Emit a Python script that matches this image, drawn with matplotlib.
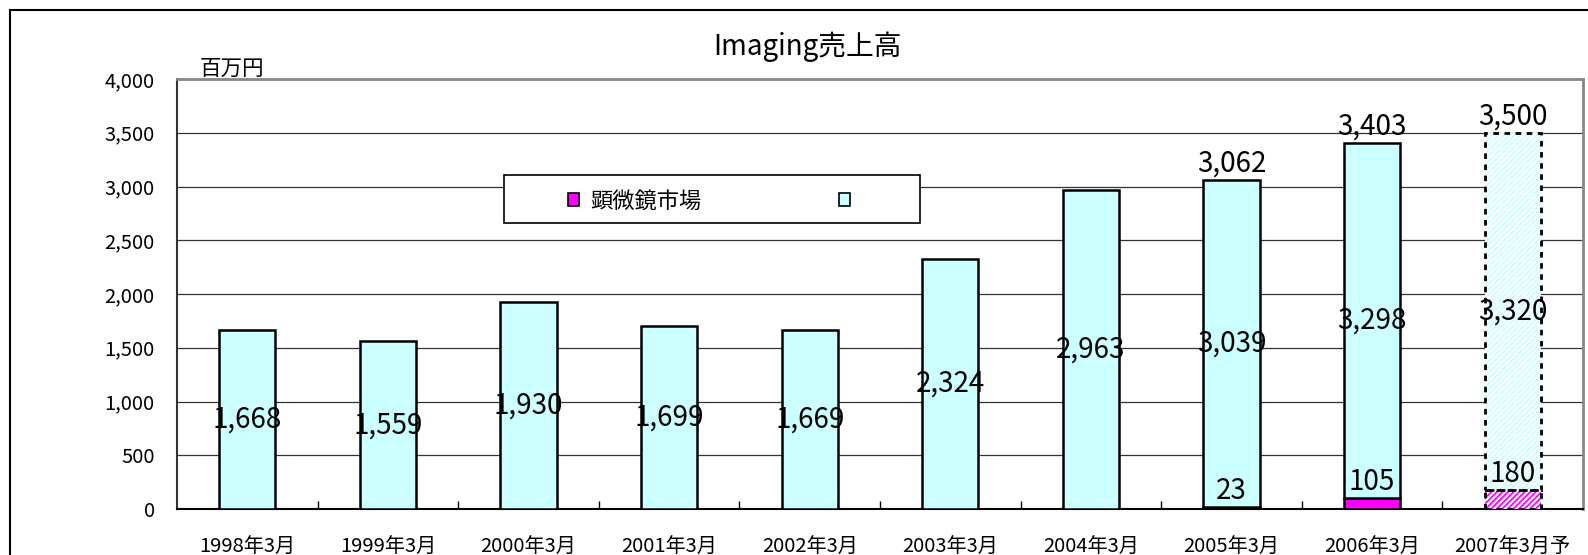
import numpy as np
import matplotlib
matplotlib.use('Agg')
import matplotlib.pyplot as plt
from matplotlib.patches import Rectangle

plt.rcParams['font.family'] = ['Noto Sans CJK JP', 'DejaVu Sans']
plt.rcParams['hatch.linewidth'] = 1.3

categories = ['1998年3月', '1999年3月', '2000年3月', '2001年3月', '2002年3月',
              '2003年3月', '2004年3月', '2005年3月', '2006年3月', '2007年3月予']
microscope = [0, 0, 0, 0, 0, 0, 0, 23, 105, 180]
other = [1668, 1559, 1930, 1699, 1669, 2324, 2963, 3039, 3298, 3320]
forecast = [False] * 9 + [True]

CYAN = '#CCFFFF'
MAGENTA = '#FF00FF'

fig = plt.figure(figsize=(15.88, 5.55), dpi=100)
ax = fig.add_axes([177 / 1588, 1 - 509 / 555, 1406 / 1588, 430 / 555])

x = np.arange(len(categories))
w = 0.4
for i in range(len(categories)):
    if forecast[i]:
        ax.bar(x[i], microscope[i], w, color='white', hatch='//////',
               edgecolor=MAGENTA, linewidth=0, zorder=3)
        ax.bar(x[i], other[i], w, bottom=microscope[i], color='white',
               hatch='//////', edgecolor=CYAN, linewidth=0, zorder=3)
        ax.bar(x[i], microscope[i], w, fill=False, edgecolor='black',
               linestyle=(0, (2, 2)), linewidth=2, zorder=4)
        ax.bar(x[i], other[i], w, bottom=microscope[i], fill=False,
               edgecolor='black', linestyle=(0, (2, 2)), linewidth=2, zorder=4)
    else:
        ax.bar(x[i], microscope[i], w, color=MAGENTA, edgecolor='black',
               linewidth=1.8, zorder=3)
        ax.bar(x[i], other[i], w, bottom=microscope[i], color=CYAN,
               edgecolor='black', linewidth=1.8, zorder=3)

totals = [m + o for m, o in zip(microscope, other)]
for i in range(len(categories)):
    ax.text(x[i], microscope[i] + other[i] / 2, f'{other[i]:,}', ha='center',
            va='center', fontsize=20, zorder=5)
    if microscope[i]:
        ax.annotate(f'{microscope[i]:,}', (x[i], microscope[i]),
                    xytext=(0, 0.5), textcoords='offset points', ha='center',
                    va='bottom', fontsize=20, zorder=5)
        ax.annotate(f'{totals[i]:,}', (x[i], totals[i]),
                    xytext=(0, 1), textcoords='offset points', ha='center',
                    va='bottom', fontsize=20, zorder=5)

ax.set_xlim(-0.5, len(categories) - 0.5)
ax.set_ylim(0, 4000)
ax.set_yticks(np.arange(0, 4001, 500))
ax.set_yticklabels([f'{v:,}' for v in range(0, 4001, 500)], fontsize=14.5)
ax.set_xticks(x)
ax.set_xticklabels(categories, fontsize=14.5)
ax.set_xticks(np.arange(0.5, len(categories) - 0.5), minor=True)
ax.tick_params(axis='x', which='major', length=0, pad=20)
ax.tick_params(axis='x', which='minor', direction='in', length=6, width=1)
ax.tick_params(axis='y', length=0, pad=16)
ax.grid(axis='y', color='#333333', linewidth=0.9, zorder=0)
ax.set_axisbelow(True)
for side in ['left', 'top', 'right']:
    ax.spines[side].set_color('#888888')
    ax.spines[side].set_linewidth(2)
ax.spines['left'].set_color('#333333')
ax.spines['left'].set_linewidth(1.5)
ax.spines['bottom'].set_color('black')
ax.spines['bottom'].set_linewidth(1.5)

fig.text(200 / 1588, 1 - 69 / 555, '百万円', fontsize=15.5, va='center')
fig.text(807 / 1588, 1 - 47 / 555, 'Imaging売上高', fontsize=20, ha='center',
         va='center')

# legend box
fig.patches.append(Rectangle((504 / 1588, 1 - 223 / 555), 416 / 1588,
                             48 / 555, transform=fig.transFigure,
                             facecolor='white', edgecolor='black',
                             linewidth=1.2, zorder=10))
handles = [Rectangle((0, 0), 1, 1, facecolor=MAGENTA, edgecolor='black', linewidth=1.2),
           Rectangle((0, 0), 1, 1, facecolor=CYAN, edgecolor='black', linewidth=1.2)]
leg = fig.legend(handles, ['顕微鏡市場', ''], ncol=2, frameon=False,
                 loc='center left', bbox_to_anchor=(568 / 1588, 1 - 201 / 555),
                 fontsize=16, handlelength=0.5, handleheight=0.5,
                 handletextpad=0.5, columnspacing=6.2, borderpad=0,
                 borderaxespad=0)
leg.set_zorder(11)

# outer frame
fig.patches.append(Rectangle((10 / 1588, -0.1), 1.1, 1.1 - 10 / 555,
                             transform=fig.transFigure, fill=False,
                             edgecolor='black', linewidth=1.5, zorder=0))

fig.savefig('out.png', dpi=100)
